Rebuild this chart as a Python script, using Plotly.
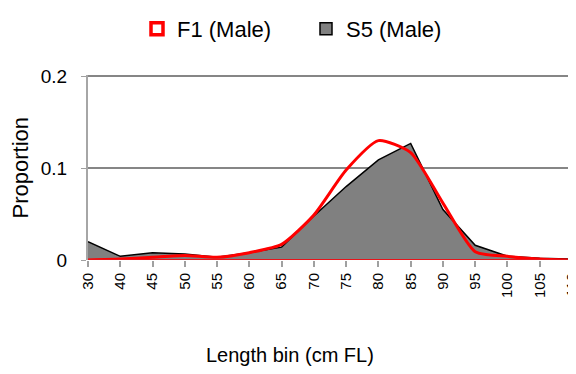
import plotly.graph_objects as go

bins = ["30", "40", "45", "50", "55", "60", "65", "70", "75", "80", "85", "90", "95", "100", "105", "110"]
f1_male = [0.0, 0.001, 0.003, 0.005, 0.003, 0.008, 0.017, 0.049, 0.098, 0.130, 0.117, 0.062, 0.009, 0.004, 0.001, 0.0]
s5_male = [0.020, 0.004, 0.008, 0.0065, 0.003, 0.008, 0.014, 0.048, 0.080, 0.109, 0.127, 0.055, 0.016, 0.004, 0.002, 0.001]

xs = list(range(len(bins)))
font = "Liberation Sans, Arial, sans-serif"

# page has an 8px body margin; layout positions are given in figure pixels
W, H = 576, 366
L, R, T, B = 80, 12, 67, 114
PW, PH = W - L - R, H - T - B

fig = go.Figure()
fig.add_trace(go.Scatter(x=xs, y=s5_male, mode="lines", fill="tozeroy",
                         fillcolor="#808080", line=dict(color="#000000", width=1.5),
                         showlegend=False, hoverinfo="skip"))
fig.add_trace(go.Scatter(x=xs, y=f1_male, mode="lines",
                         line=dict(color="#ff0000", width=3, shape="spline", smoothing=0.6),
                         showlegend=False))
# baseline
fig.add_trace(go.Scatter(x=[xs[0], xs[-1]], y=[0, 0], mode="lines",
                         line=dict(color="#e8141a", width=2), showlegend=False, hoverinfo="skip"))
# legend entries
fig.add_trace(go.Scatter(x=[None], y=[None], mode="markers", name="F1 (Male)",
                         marker=dict(symbol="square", size=12, color="white",
                                     line=dict(color="#ff0000", width=3.5))))
fig.add_trace(go.Scatter(x=[None], y=[None], mode="markers", name="S5 (Male)",
                         marker=dict(symbol="square", size=12, color="#808080",
                                     line=dict(color="#000000", width=1.5))))

fig.update_layout(
    width=W, height=H,
    margin=dict(l=L, r=R, t=T, b=B),
    paper_bgcolor="white", plot_bgcolor="white",
    font=dict(family=font, size=20, color="#000000"),
    legend=dict(orientation="h", x=(129 - L) / PW, xanchor="left", y=1.0, yanchor="top",
                yref="container", font=dict(size=22), entrywidth=124,
                entrywidthmode="pixels"),
    xaxis=dict(range=[0, len(bins) - 1], tickmode="array", tickvals=xs, ticktext=bins,
               tickangle=-90, showgrid=False, zeroline=False, showline=False,
               ticks="outside", ticklen=6, tickcolor="#a0a0a0", tickwidth=1.5,
               tickfont=dict(size=15), automargin=False, ticklabeloverflow="allow"),
    yaxis=dict(range=[0, 0.2015], tickmode="array", tickvals=[0, 0.1, 0.2],
               ticktext=["0", "0.1", "0.2"], showgrid=True, gridcolor="#868686",
               gridwidth=2, zeroline=False, showline=True, linecolor="#a6a6a6",
               linewidth=2, ticks="outside", ticklen=5, tickcolor="#a0a0a0",
               tickfont=dict(size=19), ticklabelstandoff=10, automargin=False),
    annotations=[
        dict(text="Length bin (cm FL)", xref="paper", yref="paper", x=(282 - L) / PW,
             y=-(347 - (H - B)) / PH, xanchor="center", yanchor="middle", showarrow=False,
             font=dict(size=20)),
        dict(text="Proportion", xref="paper", yref="paper", x=(12 - L) / PW, y=0.5,
             xanchor="center", yanchor="middle", textangle=-90, showarrow=False,
             font=dict(size=22)),
    ],
)

fig.write_html("out.html")
